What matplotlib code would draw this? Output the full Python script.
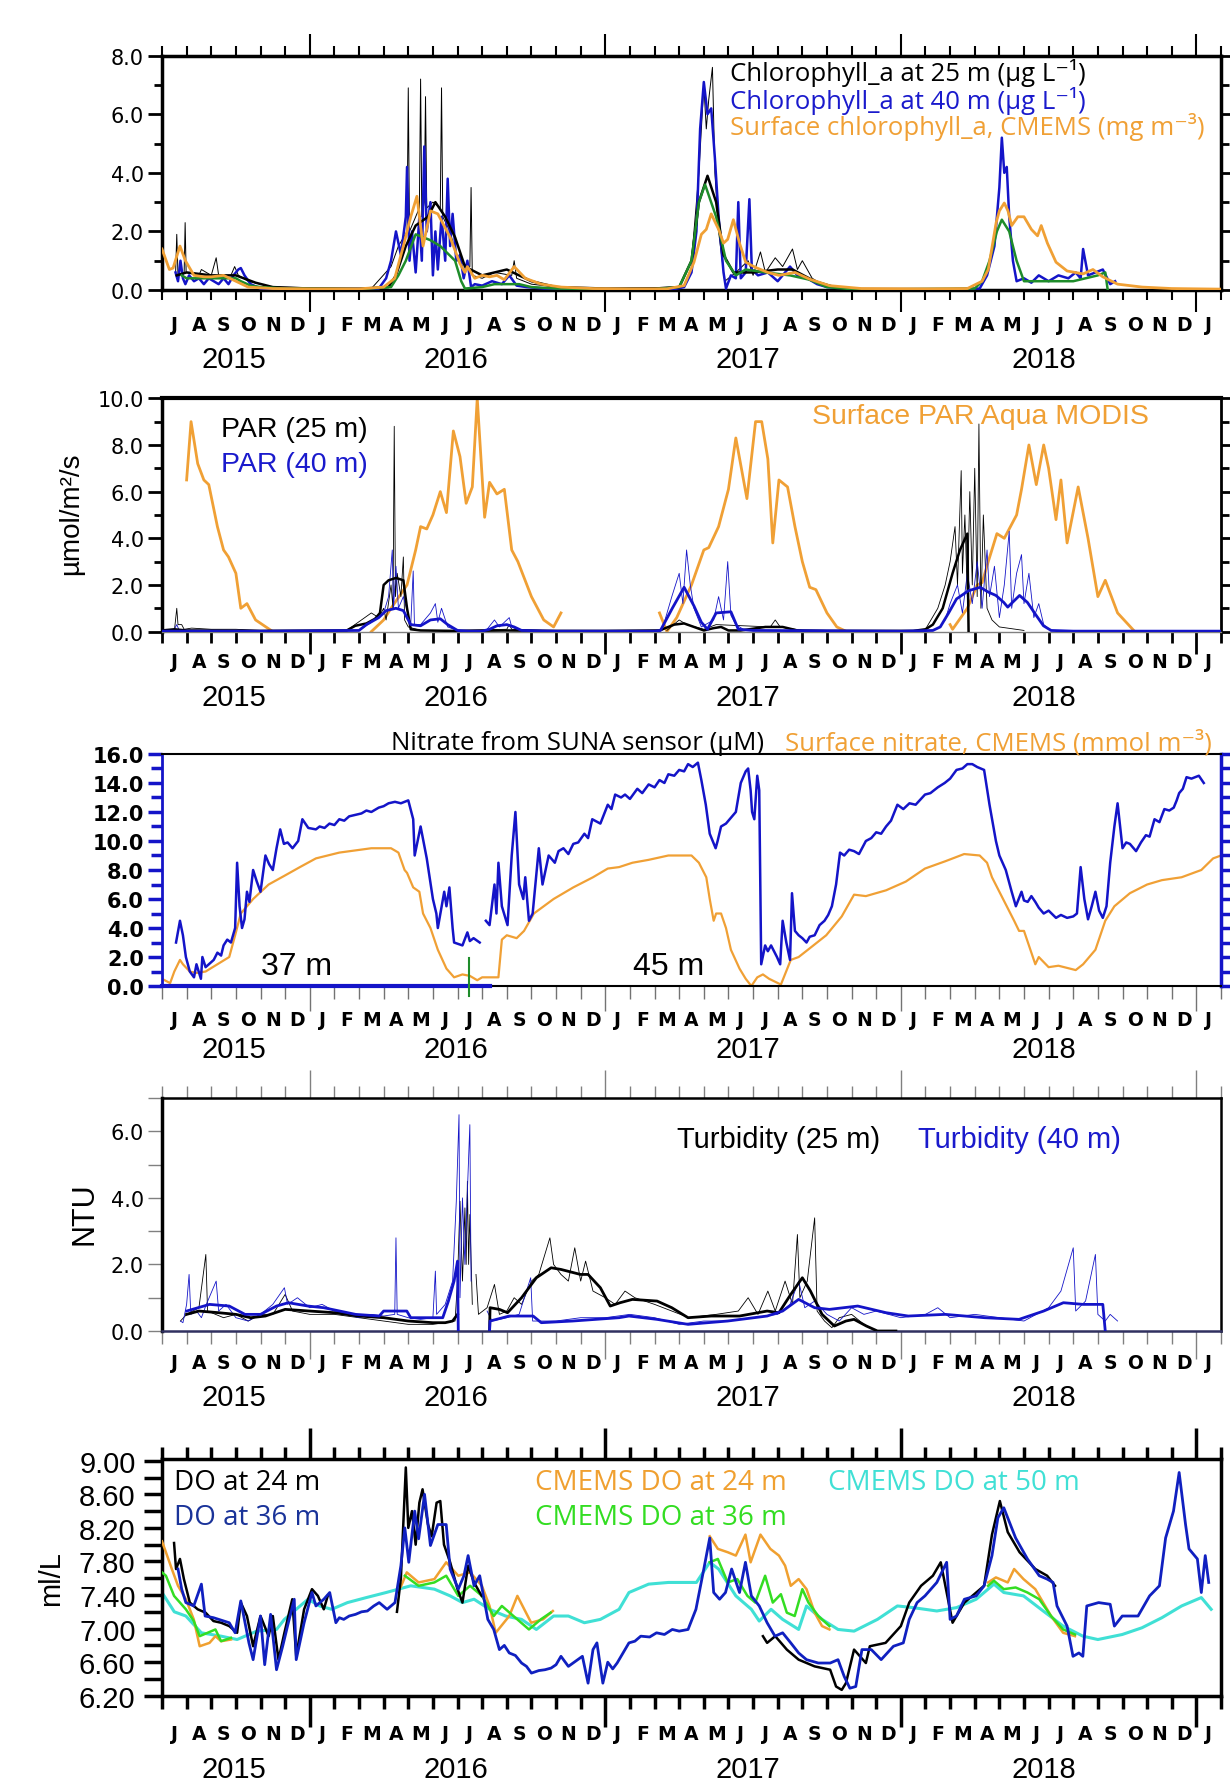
import matplotlib
matplotlib.use("Agg")
import matplotlib.pyplot as plt
import numpy as np
from matplotlib.ticker import FixedLocator, MultipleLocator, FormatStrFormatter

# x values: months since 1 July 2015 (6 = Jan 2016, 18 = Jan 2017, 30 = Jan 2018, 42 = Jan 2019)
GAP = (np.nan, np.nan)

MONTH_LETTERS = list("JASONDJFMAMJJASONDJFMAMJJASONDJFMAMJJASONDJ")
YEARS = ["2015", "2016", "2017", "2018"]
YEAR_MONTH = [2.9, 11.95, 23.8, 35.8]
JAN_MONTHS = [6, 18, 30, 42]

# ---------------- panel 1: chlorophyll ----------------
chl25_raw = [(0.55, 0.5), (0.6, 1.9), (0.65, 0.5), (0.9, 0.6), (0.94, 2.3), (0.98, 0.6), (1.5, 0.5), (1.6, 0.7),
             (2.0, 0.5), (2.2, 1.1), (2.3, 0.5), (2.8, 0.5), (2.95, 0.8), (3.1, 0.5), (3.5, 0.3), (4.5, 0.1),
             (8.5, 0.05), (9.3, 0.8), (9.6, 1.5), (9.95, 2.0), (10.0, 6.9), (10.05, 2.0), (10.3, 2.5), (10.45, 2.8),
             (10.5, 7.2), (10.55, 2.5), (10.65, 3.0), (10.7, 6.6), (10.75, 2.8), (11.0, 3.0), (11.3, 2.8),
             (11.35, 6.9), (11.4, 2.5), (11.7, 2.0), (12.0, 1.0), (12.5, 0.8), (12.55, 3.5), (12.6, 0.5),
             (13.0, 0.4), (13.5, 0.6), (14.2, 0.5), (14.3, 1.0), (14.4, 0.4), (15.0, 0.2), (16.0, 0.1), (18, 0.05),
             (21.0, 0.1), (21.5, 1.0), (21.8, 4.0), (22.0, 7.0), (22.1, 5.5), (22.2, 6.5), (22.35, 7.6),
             (22.45, 4.0), (22.6, 2.0), (22.85, 0.3), (23.3, 0.6), (23.8, 1.0), (24.0, 0.5), (24.3, 1.3),
             (24.5, 0.6), (24.9, 1.1), (25.2, 0.8), (25.6, 1.4), (25.8, 0.7), (26.0, 1.0), (26.4, 0.4),
             (27.0, 0.1), (28, 0.05)]
chl25_smooth = [(0.6, 0.5), (1.0, 0.6), (2.0, 0.5), (3.0, 0.5), (3.8, 0.25), (4.5, 0.1), (6, 0.05), (8, 0.04),
                (9.2, 0.1), (9.5, 0.5), (9.9, 1.5), (10.3, 2.2), (10.8, 2.5), (11.1, 3.0), (11.5, 2.5),
                (11.9, 1.8), (12.3, 0.8), (13.0, 0.5), (14.0, 0.7), (15.0, 0.3), (16.0, 0.1), (18, 0.05),
                (20, 0.05), (21.0, 0.1), (21.5, 1.0), (21.8, 3.0), (22.15, 3.9), (22.5, 3.0), (22.8, 1.2),
                (23.2, 0.6), (24.0, 0.6), (25.0, 0.7), (25.6, 0.7), (26.5, 0.3), (27.5, 0.05), (28.5, 0.02)]
chl40_raw = [(0.55, 0.6), (0.65, 0.3), (0.75, 1.0), (0.85, 0.4), (0.95, 0.2), (1.1, 0.5), (1.3, 0.3), (1.5, 0.4),
             (1.7, 0.2), (1.9, 0.4), (2.1, 0.3), (2.3, 0.2), (2.5, 0.4), (2.7, 0.2), (2.9, 0.5), (3.1, 0.7),
             (3.2, 0.75), (3.35, 0.5), (3.6, 0.2), (4.0, 0.05), (5, 0.03), (7, 0.03), (8.8, 0.05), (9.1, 0.4),
             (9.3, 1.0), (9.5, 2.0), (9.7, 1.2), (9.9, 2.5), (9.95, 4.2), (10.05, 1.0), (10.15, 2.0),
             (10.3, 0.6), (10.45, 2.5), (10.55, 1.0), (10.65, 4.9), (10.75, 2.0), (10.9, 3.0), (11.0, 0.5),
             (11.1, 2.0), (11.2, 0.7), (11.35, 2.5), (11.5, 1.0), (11.6, 3.8), (11.7, 1.5), (11.8, 2.6),
             (11.95, 1.0), (12.1, 1.2), (12.25, 0.4), (12.4, 1.0), (12.55, 0.1), (12.7, 0.2), (13.0, 0.15),
             (13.4, 0.3), (13.8, 0.2), (14.1, 0.5), (14.4, 0.15), (14.8, 0.1), (15.5, 0.05), (17, 0.03),
             (19, 0.03), (20.8, 0.03), (21.2, 0.1), (21.5, 0.6), (21.7, 2.0), (21.85, 5.5), (22.0, 7.1),
             (22.15, 6.0), (22.3, 6.2), (22.45, 4.5), (22.6, 2.5), (22.8, 0.6), (22.9, 0.05), (23.1, 0.5),
             (23.3, 0.4), (23.4, 3.0), (23.5, 0.4), (23.7, 0.6), (23.85, 3.1), (23.95, 0.7), (24.2, 0.5),
             (24.6, 0.6), (25.0, 0.3), (25.3, 0.6), (25.5, 0.8), (25.8, 0.5), (26.2, 0.4), (26.6, 0.2),
             (27.0, 0.1), (28, 0.03), (30, 0.03), (32, 0.03), (33.2, 0.05), (33.5, 0.5), (33.8, 1.5),
             (34.0, 3.5), (34.1, 5.2), (34.2, 4.0), (34.3, 4.2), (34.4, 2.5), (34.55, 1.0), (34.7, 0.3),
             (35.0, 0.4), (35.3, 0.25), (35.6, 0.5), (36.0, 0.3), (36.4, 0.5), (36.8, 0.4), (37.1, 0.6),
             (37.3, 0.4), (37.4, 1.4), (37.6, 0.5), (37.9, 0.6), (38.2, 0.7), (38.5, 0.2), (38.7, 0.3)]
chl40_smooth = [(0.8, 0.5), (1.0, 0.4), (2.0, 0.4), (3.0, 0.4), (3.2, 0.3), (3.6, 0.15), (4.0, 0.1), (5, 0.05),
                (8, 0.03), (9.3, 0.1), (9.6, 0.5), (9.9, 1.0), (10.3, 1.9), (10.9, 1.7), (11.3, 1.5),
                (11.9, 1.0), (12.15, 0.3), (12.3, 0.05), (13.0, 0.1), (13.5, 0.2), (14.5, 0.2), (15.0, 0.1),
                (16, 0.05), (18, 0.03), (20, 0.03), (21.0, 0.1), (21.5, 1.0), (21.8, 3.0), (22.05, 3.6),
                (22.5, 2.5), (22.9, 1.0), (23.3, 0.5), (23.7, 0.7), (24.5, 0.6), (25.5, 0.5), (26.3, 0.35),
                (27.0, 0.1), (28, 0.03), (30, 0.03), (33.0, 0.05), (33.3, 0.3), (33.6, 1.0), (33.9, 2.0),
                (34.1, 2.4), (34.4, 2.0), (34.7, 1.0), (35.0, 0.3), (36.0, 0.3), (37.0, 0.3), (37.5, 0.4),
                (38.0, 0.5), (38.3, 0.6), (38.4, 0.0)]
chl_cmems = [(0, 1.4), (0.3, 0.7), (0.45, 0.75), (0.73, 1.5), (0.95, 1.0), (1.3, 0.5), (1.7, 0.45), (2.0, 0.45),
             (2.5, 0.5), (3.0, 0.3), (3.5, 0.1), (4.5, 0.05), (6, 0.04), (8, 0.04), (9.0, 0.1), (9.45, 0.4),
             (9.8, 1.5), (10.1, 2.5), (10.35, 3.2), (10.6, 1.5), (10.9, 2.7), (11.2, 2.6), (11.7, 1.8),
             (12.1, 0.9), (12.3, 0.6), (12.4, 0.8), (12.7, 0.4), (13.0, 0.5), (13.3, 0.45), (13.6, 0.5),
             (13.9, 0.35), (14.3, 0.8), (14.75, 0.4), (15.4, 0.2), (16.2, 0.1), (17.5, 0.05), (19, 0.04),
             (20.5, 0.04), (21.2, 0.15), (21.6, 0.95), (21.9, 1.9), (22.1, 2.07), (22.3, 2.6), (22.6, 2.07),
             (22.8, 1.6), (22.97, 1.73), (23.2, 2.4), (23.45, 1.6), (23.7, 0.95), (24.1, 0.77), (24.6, 0.6),
             (25.05, 0.5), (25.7, 0.6), (26.3, 0.37), (27.1, 0.15), (28.4, 0.05), (31, 0.04), (32.7, 0.05),
             (33.3, 0.3), (33.55, 0.7), (33.87, 2.3), (34.0, 2.7), (34.2, 2.97), (34.35, 2.7), (34.5, 2.2),
             (34.75, 2.5), (35.0, 2.5), (35.3, 2.07), (35.55, 1.85), (35.7, 2.2), (35.95, 1.6), (36.3, 0.95),
             (36.75, 0.65), (37.4, 0.55), (37.8, 0.7), (38.2, 0.45), (38.8, 0.2), (39.8, 0.1), (41, 0.05),
             (43, 0.03)]

# ---------------- panel 2: PAR ----------------
par_modis = [(1.0, 6.5), (1.18, 9.0), (1.45, 7.2), (1.7, 6.5), (1.9, 6.3), (2.25, 4.5), (2.5, 3.5), (2.7, 3.2),
             (3.0, 2.5), (3.2, 1.0), (3.45, 1.2), (3.8, 0.5), (4.5, 0.0), GAP,
             (8.5, 0.0), (9.0, 0.5), (9.3, 1.0), (9.95, 2.0), (10.3, 3.5), (10.5, 4.5), (10.75, 4.4),
             (11.0, 5.0), (11.3, 6.0), (11.55, 5.1), (11.83, 8.6), (12.1, 7.5), (12.35, 5.5), (12.6, 6.2),
             (12.8, 10.0), (13.1, 4.9), (13.3, 6.4), (13.6, 5.9), (13.9, 6.1), (14.2, 3.5), (14.45, 3.0),
             (15.0, 1.5), (15.5, 0.5), (15.9, 0.2), (16.2, 0.8), GAP,
             (20.2, 0.8), (20.5, 0.0), (20.9, 0.6), (21.5, 2.0), (22.0, 3.5), (22.2, 3.6), (22.6, 4.5),
             (23.0, 6.1), (23.3, 8.3), (23.75, 5.7), (24.1, 9.0), (24.35, 9.0), (24.6, 7.4), (24.8, 3.8),
             (25.05, 6.5), (25.4, 6.2), (25.7, 4.5), (26.0, 3.0), (26.3, 1.9), (26.55, 1.8), (27.0, 0.8),
             (27.4, 0.2), (27.8, 0.0), GAP,
             (32.0, 0.3), (32.1, 0.1), (32.7, 1.0), (33.1, 2.0), (33.3, 2.1), (33.55, 3.0), (33.9, 4.2),
             (34.2, 4.0), (34.7, 5.0), (34.9, 6.1), (35.2, 8.0), (35.5, 6.3), (35.8, 8.0), (36.0, 7.0),
             (36.3, 4.8), (36.5, 6.5), (36.75, 3.8), (37.2, 6.2), (37.6, 4.0), (38.0, 1.5), (38.3, 2.2),
             (38.8, 0.8), (39.5, 0.0)]
par25_raw = [(0.5, 0.0), (0.6, 1.0), (0.65, 0.3), (0.8, 0.3), (0.9, 0.1), (1.2, 0.15), (2, 0.1), (3, 0.1),
             (4, 0.05), (7.5, 0.05), (8.5, 0.8), (8.8, 0.6), (9.0, 1.0), (9.1, 0.5), (9.3, 2.0), (9.38, 1.0),
             (9.43, 8.8), (9.48, 1.5), (9.55, 2.5), (9.7, 1.5), (9.8, 3.2), (9.85, 0.5), (10.0, 0.2),
             (10.5, 0.05), (12, 0.05), (14.0, 0.1), (14.1, 0.3), (14.2, 0.1), (16, 0.03), GAP,
             (20.5, 0.05), (21.0, 0.5), (21.3, 0.3), (22.0, 0.1), (22.5, 0.3), (24.7, 0.2), (24.9, 0.5),
             (25.1, 0.2), (26, 0.05), GAP,
             (31.0, 0.1), (31.5, 1.0), (31.8, 2.0), (32.0, 3.0), (32.2, 4.5), (32.3, 2.0), (32.45, 6.9),
             (32.5, 2.5), (32.6, 5.0), (32.7, 1.5), (32.8, 6.0), (32.9, 2.0), (33.0, 7.0), (33.1, 1.5),
             (33.17, 8.9), (33.25, 1.0), (33.35, 5.0), (33.5, 1.0), (33.7, 0.5), (34.0, 0.2), (35, 0.05)]
par25_smooth = [(0, 0.05), (0.5, 0.1), (1, 0.05), (4, 0.03), (7.5, 0.05), (7.85, 0.25), (8.3, 0.35),
                (8.65, 0.55), (8.85, 0.8), (9.0, 2.0), (9.2, 2.2), (9.5, 2.3), (9.8, 2.2), (9.95, 1.0),
                (10.1, 0.1), (10.5, 0.05), (12, 0.03), (14, 0.05), (16, 0.03), (18, 0.03), (20.2, 0.05),
                (20.8, 0.3), (21.2, 0.35), (21.6, 0.2), (22.0, 0.05), (22.4, 0.15), (22.7, 0.2), (23.0, 0.05),
                (23.5, 0.05), (24.5, 0.2), (25.2, 0.2), (25.8, 0.05), (27, 0.03), (29, 0.03), (30.5, 0.03),
                (31.0, 0.1), (31.3, 0.3), (31.7, 1.0), (32.1, 2.5), (32.4, 3.5), (32.7, 4.2), (32.75, 0.0)]
par40_raw = [(0.5, 0.1), (0.6, 0.3), (0.7, 0.05), GAP, (8.0, 0.05), (8.5, 0.4), (9.0, 0.8), (9.2, 1.5),
             (9.35, 3.5), (9.4, 1.0), (9.5, 2.8), (9.6, 1.0), (9.8, 1.5), (10.1, 0.3), (10.2, 2.6),
             (10.25, 0.3), (10.5, 0.3), (10.9, 0.8), (11.1, 1.2), (11.2, 0.4), (11.35, 1.0), (11.6, 0.2),
             (12.0, 0.05), GAP, (13.2, 0.1), (13.5, 0.5), (13.7, 0.2), (14.1, 0.6), (14.2, 0.2), (14.5, 0.05),
             GAP, (20.3, 0.05), (20.7, 1.5), (21.0, 2.5), (21.15, 1.2), (21.3, 3.5), (21.45, 2.0), (21.6, 1.0),
             (21.9, 0.2), (22.4, 0.5), (22.6, 1.5), (22.8, 0.5), (22.97, 3.0), (23.1, 0.7), (23.3, 0.3),
             (23.6, 0.1), GAP, (31.8, 0.5), (32.0, 1.2), (32.3, 2.0), (32.5, 0.8), (32.7, 2.5), (32.9, 1.2),
             (33.1, 3.0), (33.3, 1.0), (33.5, 3.5), (33.6, 1.5), (33.8, 2.8), (34.0, 0.6), (34.2, 2.0),
             (34.4, 4.3), (34.5, 1.0), (34.7, 2.5), (34.9, 3.3), (35.0, 1.2), (35.2, 2.5), (35.4, 0.6),
             (35.6, 1.2), (35.8, 0.3), (36.1, 0.05)]
par40_smooth = [(0, 0.02), (4, 0.02), (8.0, 0.05), (8.3, 0.3), (8.8, 0.6), (9.1, 0.9), (9.5, 1.0), (9.8, 0.9),
                (10.1, 0.3), (10.5, 0.25), (10.9, 0.5), (11.3, 0.55), (11.6, 0.3), (12.0, 0.05), (12.5, 0.02),
                (13.0, 0.02), (13.3, 0.1), (13.6, 0.25), (14.0, 0.3), (14.3, 0.2), (14.6, 0.05), (16, 0.02),
                (20.0, 0.02), (20.24, 0.05), (20.72, 1.0), (21.2, 1.9), (21.6, 1.1), (21.9, 0.4), (22.15, 0.1),
                (22.5, 0.8), (23.1, 0.85), (23.4, 0.1), (24, 0.05), (30, 0.02), (31.3, 0.05), (31.6, 0.2),
                (31.94, 0.8), (32.26, 1.4), (32.74, 1.75), (33.22, 1.9), (33.54, 1.7), (33.86, 1.55),
                (34.18, 1.25), (34.34, 1.05), (34.82, 1.55), (35.14, 1.25), (35.46, 0.75), (35.79, 0.25),
                (36.1, 0.05), (37, 0.02), (43, 0.02)]

# ---------------- panel 3: nitrate ----------------
nitrate_suna = [(0.57, 3.0), (0.73, 4.5), (0.85, 3.5), (0.97, 2.0), (1.13, 1.0), (1.3, 0.6), (1.4, 1.5),
                (1.58, 0.5), (1.64, 2.0), (1.77, 1.3), (2.1, 1.8), (2.25, 2.3), (2.4, 2.1), (2.5, 2.8),
                (2.65, 3.2), (2.8, 3.0), (2.97, 4.0), (3.05, 8.5), (3.15, 5.5), (3.25, 4.0), (3.35, 4.6),
                (3.45, 6.5), (3.55, 5.8), (3.7, 8.0), (3.85, 7.2), (4.0, 6.5), (4.2, 9.0), (4.35, 8.4),
                (4.5, 8.0), (4.65, 9.5), (4.8, 10.8), (4.95, 9.8), (5.1, 9.9), (5.3, 9.5), (5.53, 10.0),
                (5.7, 11.5), (5.94, 10.9), (6.25, 10.8), (6.4, 11.0), (6.6, 10.9), (6.8, 11.2), (7.0, 11.1),
                (7.2, 11.5), (7.4, 11.4), (7.6, 11.7), (7.85, 11.8), (8.1, 11.9), (8.3, 12.1), (8.5, 12.0),
                (8.8, 12.3), (9.0, 12.4), (9.2, 12.6), (9.46, 12.7), (9.7, 12.6), (10.0, 12.8),
                (10.2, 11.5), (10.26, 9.0), (10.5, 11.0), (10.75, 8.8), (11.0, 6.0), (11.14, 5.0),
                (11.2, 4.0), (11.46, 6.5), (11.55, 5.5), (11.67, 6.8), (11.8, 4.0), (11.86, 3.0), (12.2, 2.8),
                (12.4, 3.7), (12.5, 3.1), (12.65, 3.3), (12.9, 3.0), GAP,
                (13.15, 4.5), (13.3, 4.2), (13.5, 7.0), (13.58, 5.0), (13.66, 8.5), (13.8, 5.5), (14.03, 4.2),
                (14.2, 9.0), (14.35, 12.0), (14.5, 7.0), (14.67, 6.0), (14.75, 7.5), (14.9, 4.5), (15.05, 5.0),
                (15.3, 9.5), (15.45, 7.0), (15.7, 9.0), (15.95, 8.5), (16.1, 9.3), (16.3, 9.5), (16.5, 9.1),
                (16.7, 9.8), (16.9, 9.9), (17.15, 10.5), (17.3, 10.2), (17.47, 11.5), (17.8, 11.2),
                (18.1, 12.5), (18.25, 12.2), (18.4, 13.2), (18.64, 13.0), (18.8, 13.2), (19.0, 12.9),
                (19.3, 13.6), (19.5, 13.3), (19.76, 13.9), (20.0, 13.7), (20.2, 14.2), (20.4, 14.0),
                (20.56, 14.6), (20.8, 14.5), (21.0, 14.9), (21.2, 14.8), (21.36, 15.3), (21.55, 15.1),
                (21.76, 15.4), (21.9, 14.2), (22.08, 12.5),
                (22.24, 10.5), (22.48, 9.5), (22.56, 10.0), (22.7, 11.0), (22.9, 11.2), (23.1, 11.6),
                (23.3, 12.0), (23.5, 14.0), (23.7, 14.8), (23.8, 15.0), (23.9, 13.5), (23.96, 12.0),
                (24.05, 11.5), (24.17, 14.5), (24.25, 13.5), (24.33, 1.5), (24.49, 2.8), (24.6, 2.4),
                (24.73, 2.8), (24.97, 2.0), (25.1, 1.5), (25.2, 4.5), (25.35, 3.0), (25.5, 1.8), (25.58, 6.4),
                (25.7, 3.8), (25.85, 3.5), (26.0, 3.3), (26.17, 3.0), (26.3, 3.4), (26.5, 3.5), (26.7, 4.2),
                (26.9, 4.5), (27.05, 4.9), (27.2, 5.5), (27.37, 7.0), (27.53, 9.2), (27.7, 9.0), (27.9, 9.4),
                (28.1, 9.3), (28.3, 9.1), (28.58, 10.0), (28.8, 10.2), (29.0, 10.6), (29.2, 10.5),
                (29.4, 11.0), (29.6, 11.4), (29.86, 12.5), (30.1, 12.2), (30.35, 12.6), (30.6, 12.5),
                (30.98, 13.2), (31.2, 13.3), (31.5, 13.7), (31.78, 14.0), (32.0, 14.3), (32.26, 14.9),
                (32.5, 15.0), (32.7, 15.3), (32.9, 15.3), (33.1, 15.1), (33.38, 14.9), (33.6, 12.5),
                (33.86, 10.0), (34.0, 9.0), (34.26, 8.0), (34.5, 6.5), (34.67, 5.5), (34.9, 6.5),
                (35.0, 5.9), (35.15, 5.8), (35.3, 6.2), (35.46, 5.8), (35.6, 5.4), (35.8, 5.0), (36.0, 5.2),
                (36.3, 4.7), (36.5, 4.9), (36.75, 4.7), (37.0, 4.8), (37.15, 5.0), (37.3, 8.2),
                (37.45, 6.0), (37.6, 4.6), (37.75, 5.5), (37.9, 6.5), (38.05, 5.2), (38.2, 4.7), (38.35, 5.5),
                (38.5, 8.5), (38.67, 11.0), (38.8, 12.6), (39.0, 9.5), (39.15, 9.9), (39.3, 9.8),
                (39.55, 9.3), (39.75, 9.9), (39.95, 10.4), (40.1, 10.3), (40.3, 11.5), (40.5, 11.3),
                (40.7, 12.2), (40.9, 12.1), (41.08, 12.3), (41.2, 12.8), (41.3, 13.3), (41.45, 13.6),
                (41.6, 14.4), (41.8, 14.3), (42.1, 14.5), (42.3, 14.0)]
nitrate_cmems = [(0, 0.5), (0.33, 0.2), (0.5, 1.0), (0.73, 1.8), (0.85, 1.5), (1.13, 1.0), (1.4, 0.9),
                 (1.77, 1.0), (2.25, 1.5), (2.73, 2.0), (2.97, 3.5), (3.2, 5.0), (3.7, 6.0), (4.33, 7.0),
                 (4.97, 7.6), (5.6, 8.2), (6.25, 8.8), (7.2, 9.2), (8.5, 9.5), (9.3, 9.5), (9.6, 9.2),
                 (9.85, 8.0), (9.95, 7.8), (10.2, 6.8), (10.45, 6.5), (10.6, 5.0), (10.9, 4.0), (11.2, 2.5),
                 (11.55, 1.2), (11.86, 0.6), (12.2, 0.8), (12.5, 0.7), (12.8, 0.4), (13.0, 0.6), (13.3, 0.6),
                 (13.66, 0.6), (13.8, 3.2), (14.0, 3.5), (14.4, 3.3), (14.7, 3.8), (15.1, 5.0), (15.9, 6.0),
                 (16.7, 6.8), (17.5, 7.5), (18.1, 8.1), (18.56, 8.2), (19.1, 8.5), (19.76, 8.7), (20.56, 9.0),
                 (21.5, 9.0), (21.8, 8.5), (22.1, 7.5), (22.24, 6.0), (22.4, 4.5), (22.5, 5.0), (22.7, 5.0),
                 (22.9, 4.0), (23.1, 2.5), (23.45, 1.2), (23.7, 0.5), (23.93, 0.0), (24.17, 0.6), (24.4, 0.8),
                 (24.65, 0.5), (25.13, 0.1), (25.53, 1.8), (25.85, 2.0), (26.3, 2.6), (26.97, 3.5),
                 (27.6, 4.8), (28.1, 6.3), (28.58, 6.2), (29.4, 6.6), (30.2, 7.2), (30.98, 8.1), (31.8, 8.6),
                 (32.57, 9.1), (33.2, 9.0), (33.5, 8.5), (33.7, 7.5), (34.0, 6.5), (34.3, 5.5), (34.6, 4.5),
                 (34.8, 3.8), (35.0, 3.8), (35.2, 2.8), (35.46, 1.5), (35.6, 2.0), (36.0, 1.3), (36.4, 1.4),
                 (37.1, 1.1), (37.4, 1.5), (37.9, 2.5), (38.3, 4.5), (38.67, 5.5), (39.3, 6.4), (40.0, 7.0),
                 (40.6, 7.3), (41.4, 7.5), (42.2, 8.0), (42.68, 8.8), (43, 9.0)]
suna_37m_span = [(0, 0.0), (13.3, 0.0)]
mooring_change = [(12.47, 1.9), (12.47, -0.67)]
depth_labels = ["37 m", "45 m"]
depth_label_pos = [(5.45, 1.4), (20.56, 1.4)]

# ---------------- panel 4: turbidity ----------------
turb25_raw = [(0.75, 0.3), (1.0, 0.5), (1.5, 0.7), (1.78, 2.3), (1.85, 0.6), (2.5, 0.4), (3.0, 0.5),
              (3.5, 0.3), (4.0, 0.5), (4.5, 0.5), (5.0, 1.1), (5.3, 0.6), (6.0, 0.5), (7.0, 0.5), (8.0, 0.4),
              (9.0, 0.3), (10.0, 0.2), (11.0, 0.2), (11.9, 0.3), (12.0, 1.5), (12.1, 3.9), (12.2, 1.5),
              (12.3, 3.7), (12.35, 2.0), (12.4, 4.5), (12.45, 2.0), (12.5, 3.5), (12.6, 0.8), GAP,
              (12.75, 1.7), (12.85, 0.5), (13.2, 0.7), (13.5, 1.4), (13.7, 0.5), (14.0, 0.6), (14.3, 1.0),
              (14.6, 0.8), (15.0, 1.5), (15.3, 1.7), (15.75, 2.8), (15.9, 2.0), (16.2, 1.7), (16.5, 1.5),
              (16.76, 2.5), (17.0, 1.5), (17.2, 2.1), (17.5, 1.2), (18.0, 1.0), (18.4, 0.8), (18.8, 1.2),
              (19.2, 1.0), (20.0, 0.8), (20.7, 0.6), (21.4, 0.4), (22.5, 0.5), (23.4, 0.6), (23.8, 1.0),
              (24.2, 0.5), (24.6, 1.2), (24.9, 0.6), (25.3, 1.5), (25.6, 0.8), (25.8, 2.9), (25.9, 1.0),
              (26.2, 1.5), (26.5, 3.4), (26.6, 0.6), (26.9, 0.3), (27.2, 0.1), (27.5, 0.4), (28.0, 0.5),
              (28.5, 0.2), (29.0, 0.0)]
turb25_smooth = [(1.0, 0.5), (1.5, 0.6), (2.3, 0.55), (3.0, 0.5), (3.6, 0.4), (4.2, 0.45), (5.0, 0.65),
                 (6.0, 0.6), (7.0, 0.55), (8.0, 0.45), (9.0, 0.4), (10.0, 0.3), (11.0, 0.25), (11.5, 0.25),
                 (11.8, 0.3), (12.0, 0.5), GAP, (13.3, 0.0), (13.32, 0.7), (13.7, 0.65), (14.03, 0.55),
                 (14.6, 1.0), (15.2, 1.6), (15.8, 1.9), (16.2, 1.85), (16.99, 1.7), (17.3, 1.7), (17.8, 1.3),
                 (18.2, 0.75), (18.6, 0.85), (19.1, 0.95), (20.1, 0.9), (20.7, 0.7), (21.36, 0.4),
                 (22.3, 0.45), (23.45, 0.45), (24.57, 0.6), (25.05, 0.55), (25.53, 1.1), (26.0, 1.6),
                 (26.33, 1.2), (26.8, 0.5), (27.3, 0.15), (27.77, 0.3), (28.1, 0.35), (28.6, 0.15),
                 (29.05, 0.0), (29.8, 0.0)]
turb40_raw = [(0.75, 0.3), (0.85, 0.25), (1.0, 0.8), (1.1, 1.7), (1.17, 0.5), (1.4, 0.6), (1.6, 0.4),
              (1.8, 0.8), (2.2, 1.5), (2.3, 0.6), (2.6, 0.8), (3.0, 0.4), (3.5, 0.3), (4.0, 0.5), (4.5, 0.8),
              (4.97, 1.3), (5.1, 0.8), (5.5, 1.0), (6.0, 0.7), (6.5, 0.8), (7.0, 0.6), (7.5, 0.5), (8.0, 0.4),
              (8.5, 0.5), (9.0, 0.45), (9.45, 0.5), (9.5, 2.8), (9.55, 0.5), (10.0, 0.4), (10.5, 0.35),
              (11.0, 0.4), (11.1, 1.8), (11.15, 0.5), (11.5, 0.8), (11.8, 1.5), (11.95, 3.9), (12.06, 6.5),
              (12.1, 1.0), (12.2, 4.0), (12.3, 2.0), (12.4, 4.2), (12.5, 6.2), (12.55, 1.5), GAP,
              (13.2, 0.6), (13.4, 0.3), (14.0, 0.4), (14.5, 0.5), (14.97, 1.6), (15.05, 0.3), (16, 0.3),
              (17, 0.4), (18, 0.4), (19, 0.5), (20, 0.4), (21, 0.2), (22, 0.3), (23, 0.3), (24, 0.4),
              (25.0, 0.5), (25.5, 0.8), (25.85, 1.5), (26.1, 0.7), (26.5, 0.9), (27.0, 0.5), (27.5, 0.3),
              (28.0, 0.7), (28.5, 0.5), (29.0, 0.6), (30, 0.4), (31.0, 0.5), (31.5, 0.7), (32, 0.4),
              (33, 0.5), (34, 0.4), (35, 0.3), (35.5, 0.5), (36.0, 0.7), (36.5, 1.2), (37.0, 2.5),
              (37.1, 0.6), (37.5, 0.9), (37.9, 2.3), (38.0, 0.5), (38.3, 0.3), (38.5, 0.5), (38.8, 0.3)]
turb40_smooth = [(1.0, 0.6), (1.93, 0.8), (2.73, 0.75), (3.37, 0.5), (4.0, 0.5), (4.65, 0.75), (5.13, 0.85),
                 (5.93, 0.75), (6.57, 0.7), (7.86, 0.5), (8.82, 0.45), (9.0, 0.6), (9.94, 0.6), (10.1, 0.4),
                 (11.4, 0.4), (11.63, 0.9), (11.86, 1.5), (12.0, 2.1), (12.03, 0.0), GAP, (13.3, 0.0),
                 (13.32, 0.3), (14.1, 0.45), (15.07, 0.45), (15.4, 0.25), (16.67, 0.3), (18.56, 0.4),
                 (18.96, 0.45), (20.1, 0.35), (21.36, 0.2), (22.97, 0.3), (24.57, 0.45), (25.2, 0.6),
                 (25.85, 0.95), (26.5, 0.7), (27.1, 0.65), (28.25, 0.75), (29.4, 0.55), (30.3, 0.45),
                 (31.8, 0.5), (33.4, 0.4), (34.8, 0.35), (35.8, 0.6), (36.6, 0.85), (37.4, 0.8), (38.2, 0.8),
                 (38.3, 0.0)]

# ---------------- panel 5: dissolved oxygen ----------------
do24 = [(0.49, 8.02), (0.57, 7.71), (0.73, 7.83), (0.89, 7.59), (1.13, 7.31), (1.45, 7.23), (1.77, 7.19),
        (2.09, 7.09), (2.4, 7.07), (2.73, 7.03), (3.05, 6.95), (3.2, 7.31), (3.45, 7.15), (3.7, 6.79),
        (4.0, 7.15), (4.33, 6.91), (4.5, 7.15), (4.73, 6.63), (4.97, 6.95), (5.29, 7.35), (5.45, 6.67),
        (5.77, 7.23), (6.09, 7.47), (6.33, 7.39), (6.57, 7.23), (6.73, 7.39), GAP,
        (9.54, 7.2), (9.7, 7.6), (9.9, 8.92), (10.0, 8.2), (10.15, 8.4), (10.3, 8.0), (10.45, 8.5),
        (10.58, 8.66), (10.8, 8.24), (10.95, 8.1), (11.15, 8.5), (11.3, 8.52), (11.45, 8.0), (11.7, 7.79),
        (12.0, 7.47), (12.2, 7.31), (12.43, 7.75), (12.67, 7.55), (12.98, 7.39), GAP,
        (24.4, 6.91), (24.57, 6.83), (24.9, 6.91), (25.37, 6.75), (25.85, 6.63), (26.5, 6.55), (27.13, 6.51),
        (27.37, 6.31), (27.6, 6.27), (27.77, 6.35), (28.1, 6.75), (28.4, 6.65), (28.58, 6.59), (28.74, 6.79),
        (29.38, 6.83), (30.0, 7.03), (30.34, 7.31), (30.82, 7.51), (31.3, 7.63), (31.62, 7.79), (31.94, 7.31),
        (32.1, 7.07), (32.58, 7.31), (33.38, 7.51), (33.7, 8.12), (34.02, 8.52), (34.34, 8.15), (34.82, 7.91),
        (35.46, 7.71), (35.94, 7.63), (36.26, 7.51)]
do36 = [(0.65, 7.71), (0.8, 7.47), (0.97, 7.31), (1.29, 7.27), (1.6, 7.53), (1.75, 7.15), (2.09, 7.13),
        (2.73, 7.07), (2.97, 6.95), (3.2, 7.33), (3.53, 6.83), (3.7, 6.63), (4.0, 7.15), (4.17, 6.57),
        (4.41, 7.17), (4.65, 6.51), (4.9, 6.79), (5.13, 7.07), (5.37, 7.35), (5.45, 6.63), (5.77, 7.07),
        (6.09, 7.43), (6.25, 7.27), (6.57, 7.35), (6.81, 7.43), (7.06, 7.07), (7.2, 7.13), (7.38, 7.11),
        (7.6, 7.15), (7.86, 7.17), (8.1, 7.2), (8.34, 7.21), (8.6, 7.27), (8.82, 7.31), (9.14, 7.23),
        (9.46, 7.31), (9.7, 7.75), (9.86, 8.2), (10.02, 7.79),
        (10.26, 8.4), (10.42, 8.07), (10.66, 8.6), (10.9, 7.99), (11.2, 8.24), (11.54, 8.24), (11.7, 7.71),
        (12.03, 7.47), (12.26, 7.63), (12.43, 7.87), (12.67, 7.51), (12.9, 7.63), (13.23, 7.11),
        (13.47, 6.99), (13.7, 6.75), (13.9, 6.8), (14.1, 6.71), (14.35, 6.68), (14.6, 6.59), (14.8, 6.55),
        (15.0, 6.47), (15.3, 6.5), (15.55, 6.51), (15.8, 6.53), (16.0, 6.57),
        (16.2, 6.67), (16.5, 6.55), (17.07, 6.67), (17.3, 6.35), (17.5, 6.75), (17.66, 6.83), (17.9, 6.35),
        (18.1, 6.6), (18.3, 6.52), (18.48, 6.59), (18.7, 6.7), (18.96, 6.83), (19.2, 6.85), (19.44, 6.91),
        (19.8, 6.9), (20.08, 6.95), (20.4, 6.93), (20.72, 6.99), (21.0, 6.97),
        (21.36, 6.99), (21.68, 7.23), (22.0, 7.71), (22.24, 8.08), (22.4, 7.43), (22.64, 7.35), (22.88, 7.43),
        (23.13, 7.71), (23.45, 7.43), (23.69, 7.79), (23.93, 7.39), (24.25, 7.27), (24.57, 7.07),
        (24.89, 6.91), (25.2, 6.95), (25.53, 6.83), (25.85, 6.71), (26.17, 6.63), (26.65, 6.59),
        (27.13, 6.59), (27.45, 6.63), (27.7, 6.43), (27.93, 6.29), (28.17, 6.31), (28.42, 6.75), (28.8, 6.75),
        (29.2, 6.63), (29.7, 6.79), (30.1, 6.83), (30.34, 7.11), (30.66, 7.31), (30.98, 7.39), (31.46, 7.55),
        (31.86, 7.79), (32.0, 7.11), (32.26, 7.15), (32.58, 7.35), (33.06, 7.39), (33.38, 7.51), (33.7, 7.87),
        (33.94, 8.32), (34.18, 8.44), (34.34, 8.32), (34.66, 8.08), (35.14, 7.83), (35.62, 7.63),
        (35.94, 7.59), (36.18, 7.55), (36.34, 7.27), (36.75, 7.03), (36.99, 6.67), (37.23, 6.71),
        (37.39, 6.67), (37.55, 7.27), (38.03, 7.31), (38.5, 7.29), (38.67, 7.03), (38.99, 7.15),
        (39.63, 7.15), (40.1, 7.39), (40.5, 7.51), (40.75, 8.08), (41.07, 8.4), (41.3, 8.86), (41.56, 8.24),
        (41.7, 7.95), (42.04, 7.83), (42.2, 7.43), (42.36, 7.87), (42.5, 7.55)]
do_cmems24 = [(0, 8.04), (0.16, 7.91), (0.4, 7.71), (0.65, 7.51), (0.97, 7.35), (1.29, 7.11), (1.53, 6.79),
              (1.93, 6.83), (2.17, 6.91), (2.4, 6.85), (2.8, 6.87), GAP,
              (9.7, 7.5), (9.94, 7.67), (10.42, 7.55), (11.06, 7.59), (11.54, 7.79), (12.03, 7.63),
              (12.51, 7.67), (12.99, 7.51), (13.3, 7.27), (13.55, 6.95), (14.1, 7.15), (14.43, 7.39),
              (14.99, 7.07), (15.47, 7.11), (15.87, 7.21), GAP,
              (22.24, 8.1), (22.57, 7.95), (22.97, 7.91), (23.3, 7.87), (23.69, 8.12), (23.9, 7.79),
              (24.3, 8.12), (24.7, 7.95), (25.05, 7.87), (25.3, 7.75), (25.53, 7.51), (25.85, 7.59),
              (26.17, 7.47), (26.5, 7.19), (26.8, 7.03), (27.1, 6.99), GAP,
              (33.54, 7.55), (33.86, 7.61), (34.34, 7.55), (34.6, 7.71), (34.98, 7.59), (35.46, 7.47),
              (35.78, 7.31), (36.1, 7.15), (36.59, 6.95), (37.07, 6.91)]
do_cmems36 = [(0, 7.67), (0.16, 7.63), (0.49, 7.39), (0.97, 7.23), (1.29, 7.09), (1.53, 6.91), (1.85, 6.95),
              (2.17, 6.99), (2.4, 6.85), (2.8, 6.89), GAP,
              (9.86, 7.63), (10.42, 7.51), (11.06, 7.55), (11.54, 7.63), (12.03, 7.39), (12.51, 7.51),
              (12.99, 7.39), (13.47, 7.15), (13.8, 7.27), (14.27, 7.15), (14.9, 6.99), (15.38, 7.11),
              (15.78, 7.19), GAP,
              (22.24, 7.79), (22.57, 7.83), (22.97, 7.55), (23.36, 7.59), (23.77, 7.39), (24.09, 7.31),
              (24.49, 7.63), (24.8, 7.31), (25.13, 7.41), (25.37, 7.19), (25.69, 7.15), (26.0, 7.47),
              (26.25, 7.31), (26.65, 7.15), (27.1, 7.03), GAP,
              (33.54, 7.51), (33.78, 7.57), (34.18, 7.47), (34.66, 7.49), (35.14, 7.43), (35.62, 7.35),
              (36.1, 7.15), (36.59, 6.99), (37.07, 6.93)]
do_cmems50 = [(0, 7.43), (0.5, 7.2), (0.97, 7.15), (1.6, 6.95), (2.4, 6.91), (3.05, 6.87), (3.85, 6.97),
              (4.65, 6.99), (4.97, 7.11), (5.37, 7.21), (5.93, 7.35), (6.4, 7.27), (6.89, 7.23), (7.53, 7.31),
              (8.3, 7.37), (9.1, 7.43), (10.1, 7.51), (11.06, 7.47), (11.7, 7.39), (12.2, 7.31), (12.67, 7.35),
              (13.3, 7.23), (13.95, 7.15), (14.6, 7.11), (15.2, 6.99), (15.9, 7.15), (16.5, 7.15), (17.15, 7.07),
              (17.8, 7.11), (18.56, 7.23), (18.96, 7.43), (19.76, 7.53), (20.56, 7.55), (21.7, 7.55),
              (22.24, 7.79), (22.6, 7.71), (23.3, 7.39), (23.93, 7.23), (24.25, 7.09), (24.73, 7.23),
              (25.2, 7.11), (25.85, 6.99), (26.17, 7.27), (26.8, 7.11), (27.45, 6.99), (28.1, 6.97),
              (29.05, 7.11), (29.86, 7.27), (30.5, 7.25), (31.46, 7.21), (32.26, 7.25), (33.06, 7.35),
              (33.78, 7.53), (34.18, 7.43), (34.98, 7.39), (35.78, 7.21), (36.59, 7.03), (37.39, 6.91),
              (38.0, 6.87), (38.99, 6.93), (39.79, 7.01), (40.6, 7.13), (41.4, 7.27), (42.2, 7.37),
              (42.6, 7.23)]

BLUE = "#1414c8"
ORANGE = "#f0a035"
HUMAN = ["Open Sans", "DejaVu Sans"]
ARIAL = ["Liberation Sans", "DejaVu Sans"]


def xy(pairs):
    a = np.array(pairs, dtype=float)
    return a[:, 0], a[:, 1]


def draw(ax, pairs, color, lw, z=2, **kw):
    x, y = xy(pairs)
    ax.plot(x, y, color=color, lw=lw, zorder=z, solid_joinstyle="round", **kw)


def time_labels(ax, month_dy, year_dy):
    tr = ax.get_xaxis_transform()
    for i, letter in enumerate(MONTH_LETTERS):
        ax.annotate(letter, (i + 0.5, 0), xycoords=tr, xytext=(0, -month_dy), textcoords="offset pixels",
                    ha="center", va="center", fontsize=13.5, fontweight="bold", annotation_clip=False)
    for yr, m in zip(YEARS, YEAR_MONTH):
        ax.annotate(yr, (m, 0), xycoords=tr, xytext=(0, -year_dy), textcoords="offset pixels",
                    ha="center", va="center", fontsize=21, family=ARIAL, annotation_clip=False)


def time_axis(ax, top=False, color="black", width=1.5, mlen=7, ylen=16):
    ax.set_xlim(0, 43)
    ax.xaxis.set_major_locator(FixedLocator(JAN_MONTHS))
    ax.xaxis.set_minor_locator(MultipleLocator(1))
    ax.tick_params(axis="x", which="both", bottom=True, top=top, labelbottom=False, direction="out",
                   color=color, width=width)
    ax.tick_params(axis="x", which="minor", length=mlen)
    ax.tick_params(axis="x", which="major", length=ylen)


def value_axis(ax, lim, major, minor, fmt, right=True, color="black", width=2, lmaj=10, lmin=6,
               fontsize=15, family=None, weight="normal", pad=3):
    ax.set_ylim(*lim)
    ax.yaxis.set_major_locator(major)
    ax.yaxis.set_minor_locator(minor)
    ax.yaxis.set_major_formatter(FormatStrFormatter(fmt))
    ax.tick_params(axis="y", which="both", left=True, right=right, labelright=False, direction="out",
                   color=color, width=width, labelsize=fontsize, pad=pad)
    ax.tick_params(axis="y", which="major", length=lmaj)
    ax.tick_params(axis="y", which="minor", length=lmin)
    for lab in ax.get_yticklabels():
        lab.set_fontweight(weight)
        if family:
            lab.set_family(family)


fig = plt.figure(figsize=(12.3, 17.81), dpi=100)
L, W = 0.1317, 0.861
ax1 = fig.add_axes([L, 0.8366, W, 0.1316])
ax2 = fig.add_axes([L, 0.6448, W, 0.1310])
ax3 = fig.add_axes([L, 0.4458, W, 0.1303])
ax4 = fig.add_axes([L, 0.2521, W, 0.1308])
ax5 = fig.add_axes([L, 0.0473, W, 0.1329])

# ---- panel 1
draw(ax1, chl25_raw, "black", 0.7, 2)
draw(ax1, chl40_raw, BLUE, 1.8, 3)
draw(ax1, chl25_smooth, "black", 1.8, 4)
draw(ax1, chl40_smooth, "#1e8c2a", 1.8, 5)
draw(ax1, chl_cmems, ORANGE, 2.0, 6)
value_axis(ax1, (0, 8), MultipleLocator(2), MultipleLocator(1), "%.1f")
time_axis(ax1, top=True)
for s in ax1.spines.values():
    s.set_linewidth(2.5)
time_labels(ax1, 34, 69)
t1 = dict(fontsize=18.5, family=HUMAN, ha="left", va="center")
ax1.text(23.06, 7.44, "Chlorophyll_a at 25 m (µg L⁻¹)", color="black", **t1)
ax1.text(23.06, 6.49, "Chlorophyll_a at 40 m (µg L⁻¹)", color="#1a1acc", **t1)
ax1.text(23.06, 5.6, "Surface chlorophyll_a, CMEMS (mg m⁻³)", color=ORANGE, **t1)

# ---- panel 2
draw(ax2, par_modis, ORANGE, 2.0, 2)
draw(ax2, par25_raw, "black", 0.6, 3)
draw(ax2, par40_raw, BLUE, 0.6, 3)
draw(ax2, par25_smooth, "black", 1.8, 4)
draw(ax2, par40_smooth, BLUE, 2.0, 5)
value_axis(ax2, (0, 10), MultipleLocator(2), MultipleLocator(1), "%.1f")
time_axis(ax2, width=2, mlen=8, ylen=16)
ax2.spines["top"].set_linewidth(3)
ax2.spines["left"].set_linewidth(2.5)
ax2.spines["right"].set_linewidth(2)
ax2.spines["bottom"].set_linewidth(1)
ax2.spines["bottom"].set_color("0.5")
time_labels(ax2, 30, 65)
ax2.text(-0.086, 0.51, "µmol/m²/s", transform=ax2.transAxes, rotation=90, ha="center", va="center",
         fontsize=20, family=ARIAL)
t2 = dict(fontsize=20.5, family=ARIAL, ha="left", va="center")
ax2.text(2.4, 8.68, "PAR (25 m)", color="black", **t2)
ax2.text(2.4, 7.18, "PAR (40 m)", color="#1a1acc", **t2)
ax2.text(26.4, 9.24, "Surface PAR Aqua MODIS", color=ORANGE, **t2)

# ---- panel 3
draw(ax3, nitrate_cmems, ORANGE, 1.6, 2)
draw(ax3, nitrate_suna, BLUE, 1.8, 3)
draw(ax3, suna_37m_span, BLUE, 3.0, 4, clip_on=False)
draw(ax3, mooring_change, "#1e8c2a", 1.5, 5, clip_on=False)
value_axis(ax3, (0, 16), MultipleLocator(2), MultipleLocator(1), "%.1f", color=BLUE, width=2.5,
           lmaj=10, lmin=8, weight="bold")
time_axis(ax3, color="0.45", width=1, mlen=9, ylen=18)
ax3.spines["left"].set_color(BLUE)
ax3.spines["left"].set_linewidth(2)
ax3.spines["right"].set_color(BLUE)
ax3.spines["right"].set_linewidth(2.5)
ax3.spines["top"].set_linewidth(1.5)
ax3.spines["bottom"].set_linewidth(1.5)
time_labels(ax3, 33, 63)
for lab, (mx, my) in zip(depth_labels, depth_label_pos):
    ax3.text(mx, my, lab, fontsize=23, family=ARIAL, ha="center", va="center")
ax3.text(9.28, 16.8, "Nitrate from SUNA sensor (µM)", fontsize=18.5, family=HUMAN, ha="left", va="center")
ax3.text(25.3, 16.8, "Surface nitrate, CMEMS (mmol m⁻³)", fontsize=18.5, family=HUMAN, color=ORANGE,
         ha="left", va="center")

# ---- panel 4
draw(ax4, turb25_raw, "black", 0.6, 2)
draw(ax4, turb40_raw, BLUE, 0.6, 3)
draw(ax4, turb25_smooth, "black", 2.0, 4)
draw(ax4, turb40_smooth, BLUE, 2.0, 5)
value_axis(ax4, (0, 7), MultipleLocator(2), MultipleLocator(1), "%.1f", right=False, color="0.5",
           width=1, lmaj=10, lmin=10)
time_axis(ax4, top=True, color="0.5", width=1, mlen=9, ylen=20)
for s in ax4.spines.values():
    s.set_linewidth(1.8)
ax4.spines["left"].set_linewidth(2.5)
ax4.spines["bottom"].set_color("#303060")
time_labels(ax4, 31, 66)
ax4.text(-0.073, 0.51, "NTU", transform=ax4.transAxes, rotation=90, ha="center", va="center",
         fontsize=22, family=ARIAL)
ax4.text(25.05, 5.77, "Turbidity (25 m)", color="black", fontsize=21, family=ARIAL, ha="center", va="center")
ax4.text(34.8, 5.77, "Turbidity (40 m)", color="#1a1acc", fontsize=21, family=ARIAL, ha="center",
         va="center")

# ---- panel 5
draw(ax5, do_cmems50, "#40e0d5", 2.2, 2)
draw(ax5, do_cmems24, "#f0a030", 1.8, 3)
draw(ax5, do_cmems36, "#33dd22", 1.8, 4)
draw(ax5, do24, "black", 1.8, 5)
draw(ax5, do36, "#1020c0", 2.0, 6)
value_axis(ax5, (6.2, 9.02), FixedLocator(np.round(np.arange(6.2, 9.01, 0.4), 2)),
           FixedLocator(np.round(np.arange(6.4, 9.0, 0.4), 2)), "%.2f", right=False, width=2.5, lmaj=13,
           lmin=13, fontsize=21, family=ARIAL, pad=6)
time_axis(ax5, top=True, width=2.5, mlen=9, ylen=22)
for s in ax5.spines.values():
    s.set_linewidth(2.5)
time_labels(ax5, 38, 73)
ax5.text(-0.105, 0.5, "ml/L", transform=ax5.transAxes, rotation=90, ha="center", va="center",
         fontsize=21, family=ARIAL)
t5 = dict(fontsize=20, family=HUMAN, ha="left", va="center")
ax5.text(0.49, 8.75, "DO at 24 m", color="black", **t5)
ax5.text(0.49, 8.33, "DO at 36 m", color="#1a3399", **t5)
ax5.text(15.16, 8.75, "CMEMS DO at 24 m", color="#f0a030", **t5)
ax5.text(15.16, 8.33, "CMEMS DO at 36 m", color="#33dd22", **t5)
ax5.text(27.04, 8.75, "CMEMS DO at 50 m", color="#40e0d5", **t5)

fig.savefig("out.png", dpi=100)
